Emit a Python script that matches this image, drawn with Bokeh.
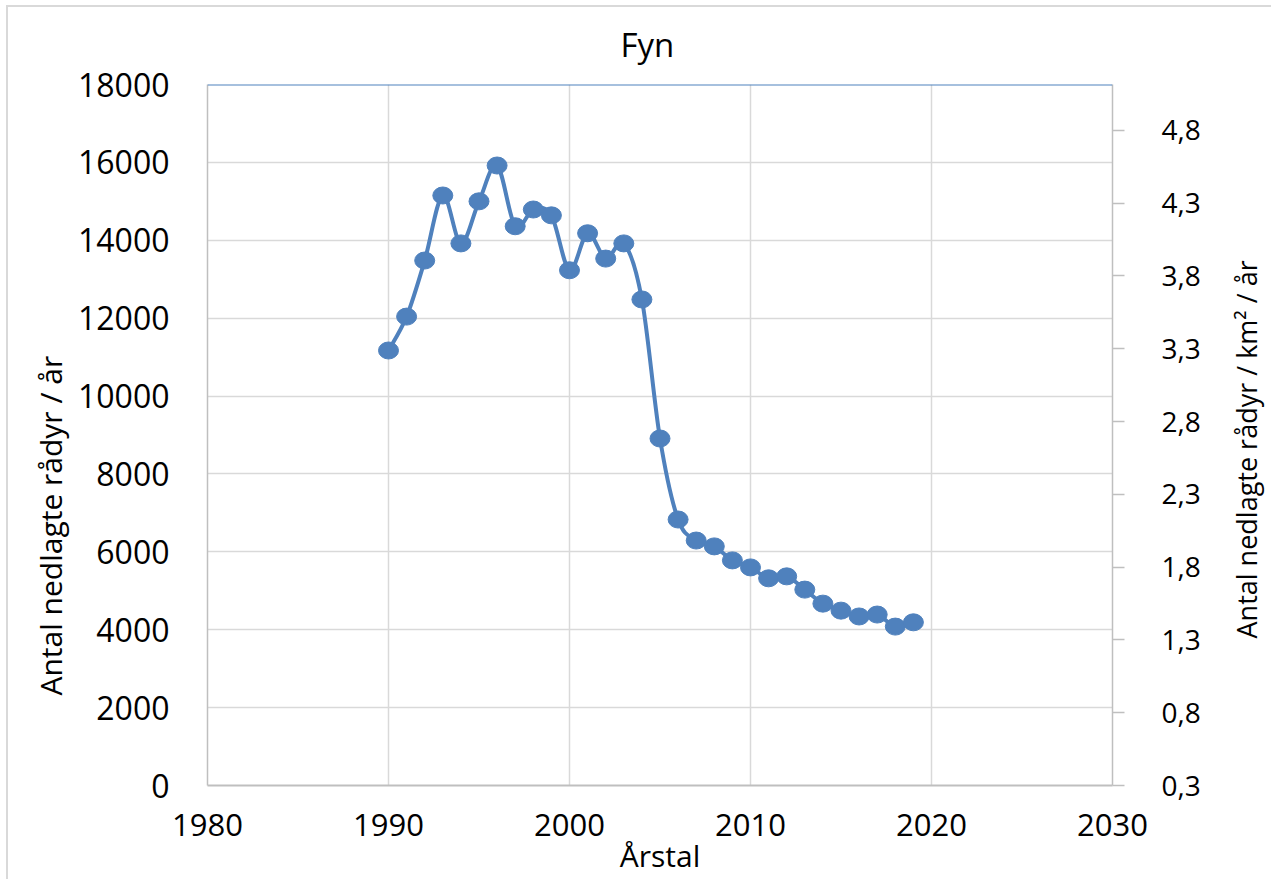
import numpy as np
from bokeh.plotting import figure
from bokeh.layouts import row
from bokeh.models import Range1d, LinearAxis, FixedTicker, Span, Title
from bokeh.embed import file_html
from bokeh.resources import INLINE

# ---------------- data ----------------
years = [1990, 1991, 1992, 1993, 1994, 1995, 1996, 1997, 1998, 1999,
         2000, 2001, 2002, 2003, 2004, 2005, 2006, 2007, 2008, 2009,
         2010, 2011, 2012, 2013, 2014, 2015, 2016, 2017, 2018, 2019]
counts = [11170, 12040, 13480, 15150, 13920, 15000, 15920, 14360, 14790, 14640,
          13230, 14180, 13530, 13920, 12480, 8910, 6830, 6290, 6140, 5780,
          5600, 5320, 5370, 5030, 4670, 4490, 4340, 4390, 4080, 4190]

x_ticks = [1980, 1990, 2000, 2010, 2020, 2030]
y_ticks = [0, 2000, 4000, 6000, 8000, 10000, 12000, 14000, 16000, 18000]
right_ticks = [0.3, 0.8, 1.3, 1.8, 2.3, 2.8, 3.3, 3.8, 4.3, 4.8]
right_tick_labels = ["0,3", "0,8", "1,3", "1,8", "2,3", "2,8", "3,3", "3,8", "4,3", "4,8"]

title_text = "Fyn"
x_title = "Årstal"
y_title = "Antal nedlagte rådyr / år"
y2_title = "Antal nedlagte rådyr / km² / år"

# ---------------- styling ----------------
BLUE = "#4F81BD"
GRID = "#D9D9D9"
AXIS = "#BFBFBF"
FONT = "Open Sans"
TXT = "#000000"

H = 879
W_MAIN = 1225
W_SIDE = 46

p = figure(width=W_MAIN, height=H, output_backend="svg", toolbar_location=None,
           x_range=Range1d(1980, 2030), y_range=Range1d(0, 18000),
           min_border_left=207, min_border_right=113,
           min_border_top=84, min_border_bottom=94)
p.outline_line_color = None
p.background_fill_color = "white"
p.border_fill_alpha = 0

p.extra_y_ranges = {"dens": Range1d(0.3, 5.115)}

# title
p.title.text = title_text
p.title.align = "left"
p.title.offset = 413
p.title.text_font = FONT
p.title.text_font_size = "33px"
p.title.text_font_style = "normal"
p.title.text_color = TXT
p.title.standoff = 36

# grid
p.xgrid.ticker = FixedTicker(ticks=x_ticks)
p.ygrid.ticker = FixedTicker(ticks=y_ticks)
for g in (p.xgrid, p.ygrid):
    g.grid_line_color = GRID
    g.grid_line_width = 1.5

# bottom axis
xa = p.xaxis[0]
xa.ticker = FixedTicker(ticks=x_ticks)
xa.axis_line_color = AXIS
xa.axis_line_width = 2
xa.major_tick_line_color = None
xa.minor_tick_line_color = None
xa.major_label_standoff = 22
xa.major_label_text_font = FONT
xa.major_label_text_font_size = "31px"
xa.major_label_text_color = TXT
xa.axis_label = x_title
xa.axis_label_standoff = -4
xa.axis_label_text_font = FONT
xa.axis_label_text_font_size = "30px"
xa.axis_label_text_font_style = "normal"
xa.axis_label_text_color = TXT

# left axis
ya = p.yaxis[0]
ya.ticker = FixedTicker(ticks=y_ticks)
ya.axis_line_color = AXIS
ya.axis_line_width = 1.5
ya.major_tick_line_color = None
ya.minor_tick_line_color = None
ya.major_label_standoff = 32
ya.major_label_text_font = FONT
ya.major_label_text_font_size = "32px"
ya.major_label_text_color = TXT

# left axis title (side title so it can sit below centre like the reference)
lt = Title(text=y_title, align="left", offset=90, standoff=10,
           text_font=FONT, text_font_size="30px", text_font_style="normal",
           text_color=TXT)
p.add_layout(lt, "left")

# right axis
ra = LinearAxis(y_range_name="dens",
                ticker=FixedTicker(ticks=right_ticks),
                major_label_overrides={t: l for t, l in zip(right_ticks, right_tick_labels)})
ra.axis_line_color = AXIS
ra.axis_line_width = 1.5
ra.major_tick_line_color = AXIS
ra.major_tick_line_width = 1.5
ra.major_tick_out = 12
ra.major_tick_in = 0
ra.minor_tick_line_color = None
ra.major_label_standoff = 37
ra.major_label_text_font = FONT
ra.major_label_text_font_size = "28px"
ra.major_label_text_color = TXT
p.add_layout(ra, "right")

# top blue border line
p.add_layout(Span(location=18000, dimension="width", line_color=BLUE, line_width=2))

# smoothed line (Catmull-Rom style bezier segments, as the spreadsheet's smoothed line)
xs = np.array(years, dtype=float)
ys = np.array(counts, dtype=float)
xp = np.concatenate([[xs[0]], xs, [xs[-1]]])
yp = np.concatenate([[ys[0]], ys, [ys[-1]]])
x0, y0 = xs[:-1], ys[:-1]
x1, y1 = xs[1:], ys[1:]
cx0 = x0 + (xp[2:-1] - xp[:-3]) / 6.0
cy0 = y0 + (yp[2:-1] - yp[:-3]) / 6.0
cx1 = x1 - (xp[3:] - xp[1:-2]) / 6.0
cy1 = y1 - (yp[3:] - yp[1:-2]) / 6.0
p.bezier(x0=x0, y0=y0, x1=x1, y1=y1, cx0=cx0, cy0=cy0, cx1=cx1, cy1=cy1,
         line_color=BLUE, line_width=4)

# markers
p.ellipse(x=years, y=counts, width=20, height=17,
          width_units="screen", height_units="screen",
          fill_color=BLUE, line_color=BLUE)

# narrow side strip that carries the right-hand axis title (reading upwards)
p2 = figure(width=W_SIDE, height=H, output_backend="svg", toolbar_location=None,
            x_axis_location=None, y_axis_location=None,
            min_border_left=0, min_border_right=0,
            min_border_top=84, min_border_bottom=94)
p2.outline_line_color = None
p2.grid.visible = False
p2.background_fill_alpha = 0
p2.border_fill_alpha = 0
rt = Title(text=y2_title, align="left", offset=147, standoff=0,
           text_font=FONT, text_font_size="27px", text_font_style="normal",
           text_color=TXT)
p2.add_layout(rt, "left")

# light chart-area border at the top and left edge, as in the reference
chart_bg = ("linear-gradient(#D9D9D9, #D9D9D9) 6px 5px / 2px 100% no-repeat, "
            "linear-gradient(#D9D9D9, #D9D9D9) 6px 5px / 100% 2px no-repeat, white")
layout = row(p, p2, spacing=0, styles={"background": chart_bg})
open("out.html", "w").write(file_html(layout, INLINE))
